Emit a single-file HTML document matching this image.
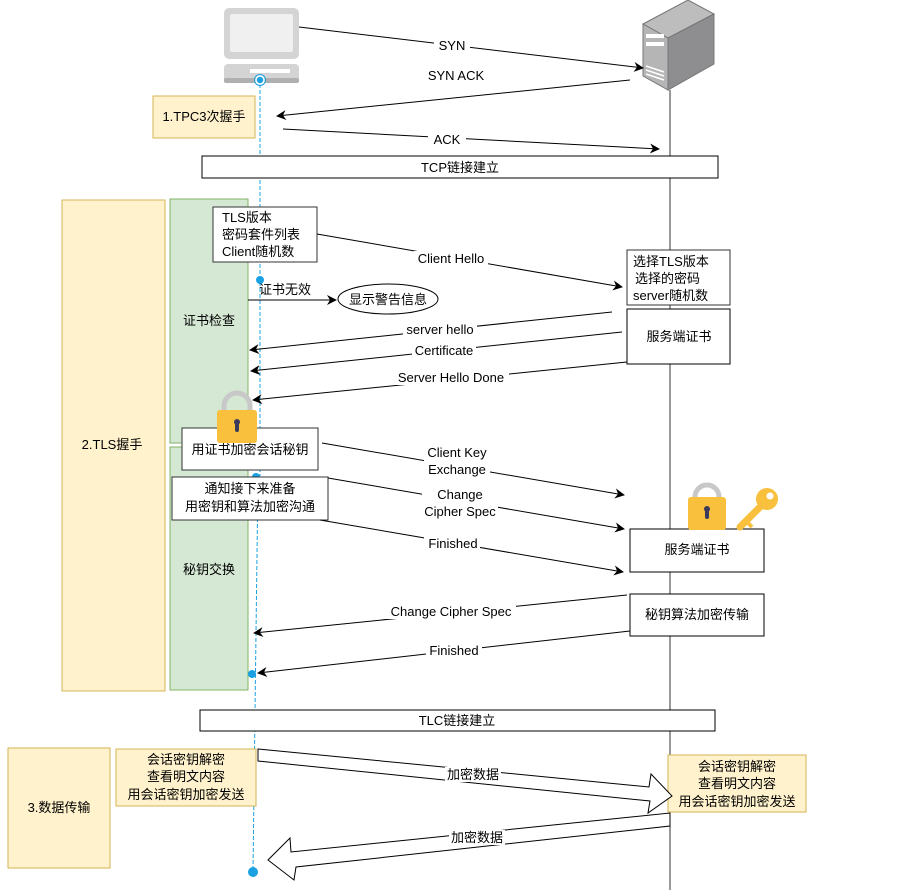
<!DOCTYPE html>
<html><head><meta charset="utf-8"><style>
html,body{margin:0;padding:0;background:#fff;}
svg{display:block;font-family:"Liberation Sans","Noto Sans CJK SC",sans-serif;}
</style></head><body>
<svg width="912" height="890" viewBox="0 0 912 890" xmlns="http://www.w3.org/2000/svg">
<defs>
<marker id="a" markerWidth="10" markerHeight="10" refX="9" refY="5" orient="auto" markerUnits="userSpaceOnUse"><path d="M0,0 L10,5 L0,10 L3,5 Z" fill="#000"/></marker>
</defs>
<g font-size="13" fill="#000">
<rect x="62" y="200" width="103" height="491" fill="#fff2cc" stroke="#d6b656"/>
<text x="112" y="449" text-anchor="middle">2.TLS握手</text>
<rect x="170" y="199" width="78" height="244" fill="#d5e8d4" stroke="#82b366"/>
<rect x="170" y="447" width="78" height="243" fill="#d5e8d4" stroke="#82b366"/>
<text x="209" y="325" text-anchor="middle">证书检查</text>
<text x="209" y="574" text-anchor="middle">秘钥交换</text>
<rect x="8" y="748" width="102" height="120" fill="#fff2cc" stroke="#d6b656"/>
<text x="59" y="812" text-anchor="middle">3.数据传输</text>
<rect x="153" y="96" width="102" height="42" fill="#fff2cc" stroke="#d6b656"/>
<text x="204" y="121" text-anchor="middle">1.TPC3次握手</text>

<line x1="670" y1="90" x2="670" y2="890" stroke="#333"/>
<line x1="260" y1="84" x2="260" y2="476" stroke="#1ba1e2" stroke-dasharray="4 2"/>
<line x1="258" y1="476" x2="253" y2="870" stroke="#1ba1e2" stroke-dasharray="4 2"/>

<rect x="224" y="8" width="75" height="51" rx="5" fill="#d4d4d4"/>
<rect x="230" y="14" width="63" height="38" rx="2" fill="#f0f0f0"/>
<rect x="224" y="64" width="75" height="19" rx="4" fill="#d4d4d4"/>
<rect x="250" y="69" width="40" height="4" fill="#fff"/>
<rect x="224" y="78" width="75" height="5" rx="2" fill="#b0b0b0"/>
<circle cx="260" cy="80" r="4" fill="#1ba1e2" stroke="#fff" stroke-width="1.5"/>
<circle cx="260" cy="80" r="5.5" fill="none" stroke="#1ba1e2"/>

<polygon points="643,24 688,0 714,14 668,38" fill="#bdbdbe" stroke="#777"/>
<polygon points="668,38 714,14 714,64 668,90" fill="#8e8e90" stroke="#777"/>
<polygon points="643,24 668,38 668,90 643,76" fill="#b5b5b6" stroke="#777"/>
<rect x="646" y="34" width="18" height="4" fill="#fff"/>
<rect x="646" y="42" width="18" height="4" fill="#fff"/>
<line x1="646" y1="66" x2="664" y2="72" stroke="#fff" stroke-width="1.5"/>
<line x1="646" y1="70" x2="664" y2="76" stroke="#fff" stroke-width="1.5"/>
<line x1="646" y1="74" x2="664" y2="80" stroke="#fff" stroke-width="1.5"/>

<line x1="299" y1="27" x2="643" y2="68" stroke="#000" marker-end="url(#a)"/>
<rect x="434" y="38" width="36" height="15" fill="#fff"/><text x="452" y="50" text-anchor="middle">SYN</text>
<text x="456" y="80" text-anchor="middle">SYN ACK</text>
<line x1="630" y1="80" x2="277" y2="116" stroke="#000" marker-end="url(#a)"/>
<line x1="283" y1="129" x2="659" y2="149" stroke="#000" marker-end="url(#a)"/>
<rect x="428" y="132" width="38" height="15" fill="#fff"/><text x="447" y="144" text-anchor="middle">ACK</text>
<rect x="202" y="156" width="516" height="22" fill="#fff" stroke="#000"/>
<text x="460" y="172" text-anchor="middle">TCP链接建立</text>

<rect x="213" y="207" width="104" height="55" fill="#fff" stroke="#333"/>
<text x="222" y="222">TLS版本</text>
<text x="222" y="239">密码套件列表</text>
<text x="222" y="256">Client随机数</text>
<line x1="317" y1="234" x2="622" y2="287" stroke="#000" marker-end="url(#a)"/>
<rect x="414" y="251" width="74" height="15" fill="#fff"/><text x="451" y="263" text-anchor="middle">Client Hello</text>
<rect x="627" y="250" width="103" height="55" fill="#fff" stroke="#333"/>
<text x="633" y="266">选择TLS版本</text>
<text x="635" y="283">选择的密码</text>
<text x="633" y="300">server随机数</text>
<rect x="627" y="309" width="103" height="55" fill="#fff" stroke="#000"/>
<text x="679" y="341" text-anchor="middle">服务端证书</text>

<circle cx="260" cy="280" r="4" fill="#1ba1e2"/>
<text x="259" y="294">证书无效</text>
<line x1="248" y1="300" x2="336" y2="300" stroke="#000" marker-end="url(#a)"/>
<ellipse cx="388" cy="299" rx="50" ry="15" fill="#fff" stroke="#000"/>
<text x="388" y="304" text-anchor="middle">显示警告信息</text>

<line x1="612" y1="312" x2="250" y2="350" stroke="#000" marker-end="url(#a)"/>
<rect x="403" y="322" width="74" height="15" fill="#fff"/><text x="440" y="334" text-anchor="middle">server hello</text>
<line x1="622" y1="332" x2="251" y2="371" stroke="#000" marker-end="url(#a)"/>
<rect x="412" y="343" width="64" height="15" fill="#fff"/><text x="444" y="355" text-anchor="middle">Certificate</text>
<line x1="627" y1="362" x2="253" y2="400" stroke="#000" marker-end="url(#a)"/>
<rect x="393" y="370" width="116" height="15" fill="#fff"/><text x="451" y="382" text-anchor="middle">Server Hello Done</text>

<rect x="182" y="428" width="136" height="42" fill="#fff" stroke="#333"/>
<text x="250" y="454" text-anchor="middle">用证书加密会话秘钥</text>
<path d="M224,412 v-6 a13,13 0 0 1 26,0 v6" fill="none" stroke="#c8c8c8" stroke-width="5"/>
<rect x="217" y="410" width="40" height="33" rx="3" fill="#f8c03c"/>
<circle cx="237" cy="422" r="3" fill="#3c3a5a"/><rect x="235" y="422" width="4" height="10" rx="2" fill="#3c3a5a"/>
<circle cx="256" cy="477" r="4" fill="#1ba1e2"/>
<rect x="172" y="477" width="156" height="43" fill="#fff" stroke="#333"/>
<text x="250" y="493" text-anchor="middle">通知接下来准备</text>
<text x="250" y="511" text-anchor="middle">用密钥和算法加密沟通</text>

<line x1="322" y1="443" x2="624" y2="495" stroke="#000" marker-end="url(#a)"/>
<rect x="424" y="445" width="66" height="32" fill="#fff"/>
<text x="457" y="457" text-anchor="middle">Client Key</text><text x="457" y="474" text-anchor="middle">Exchange</text>
<line x1="328" y1="478" x2="624" y2="529" stroke="#000" marker-end="url(#a)"/>
<rect x="422" y="488" width="76" height="32" fill="#fff"/>
<text x="460" y="499" text-anchor="middle">Change</text><text x="460" y="516" text-anchor="middle">Cipher Spec</text>
<line x1="320" y1="520" x2="623" y2="572" stroke="#000" marker-end="url(#a)"/>
<rect x="424" y="536" width="56" height="15" fill="#fff"/><text x="453" y="548" text-anchor="middle">Finished</text>

<rect x="630" y="529" width="134" height="43" fill="#fff" stroke="#000"/>
<text x="697" y="554" text-anchor="middle">服务端证书</text>
<path d="M695,501 v-4 a12,12 0 0 1 24,0 v4" fill="none" stroke="#c8c8c8" stroke-width="5"/>
<rect x="688" y="497" width="38" height="33" rx="3" fill="#f8c03c"/>
<circle cx="707" cy="509" r="3" fill="#3c3a5a"/><rect x="705" y="509" width="4" height="10" rx="2" fill="#3c3a5a"/>
<circle cx="767" cy="499" r="11" fill="#f8c03c"/><circle cx="770" cy="496" r="3.5" fill="#fff"/>
<line x1="760" y1="507" x2="740" y2="527" stroke="#f8c03c" stroke-width="7" stroke-linecap="round"/>
<line x1="746" y1="521" x2="752" y2="527" stroke="#f8c03c" stroke-width="4"/>

<rect x="630" y="594" width="134" height="42" fill="#fff" stroke="#000"/>
<text x="697" y="619" text-anchor="middle">秘钥算法加密传输</text>
<line x1="627" y1="595" x2="254" y2="633" stroke="#000" marker-end="url(#a)"/>
<rect x="386" y="604" width="130" height="15" fill="#fff"/><text x="451" y="616" text-anchor="middle">Change Cipher Spec</text>
<line x1="630" y1="631" x2="258" y2="673" stroke="#000" marker-end="url(#a)"/>
<rect x="426" y="643" width="56" height="15" fill="#fff"/><text x="454" y="655" text-anchor="middle">Finished</text>
<circle cx="252" cy="674" r="4" fill="#1ba1e2"/>

<rect x="200" y="710" width="515" height="21" fill="#fff" stroke="#000"/>
<text x="457" y="725" text-anchor="middle">TLC链接建立</text>

<rect x="116" y="749" width="140" height="57" fill="#fff2cc" stroke="#d6b656"/>
<text x="186" y="764" text-anchor="middle">会话密钥解密</text>
<text x="186" y="781" text-anchor="middle">查看明文内容</text>
<text x="186" y="799" text-anchor="middle">用会话密钥加密发送</text>
<rect x="668" y="755" width="138" height="57" fill="#fff2cc" stroke="#d6b656"/>
<text x="737" y="771" text-anchor="middle">会话密钥解密</text>
<text x="737" y="788" text-anchor="middle">查看明文内容</text>
<text x="737" y="806" text-anchor="middle">用会话密钥加密发送</text>

<polygon points="258,749 649,787 651,774 672,796 648,813 650,801 258,761" fill="#fff" stroke="#000"/>
<rect x="445" y="767" width="56" height="15" fill="#fff"/><text x="473" y="779" text-anchor="middle">加密数据</text>
<polygon points="670,813 670,826 296,867 294,880 268,860 290,838 291,852" fill="#fff" stroke="#000"/>
<rect x="449" y="830" width="56" height="15" fill="#fff"/><text x="477" y="842" text-anchor="middle">加密数据</text>
<circle cx="253" cy="872" r="5" fill="#1ba1e2"/>
</g>
</svg>
</body></html>
